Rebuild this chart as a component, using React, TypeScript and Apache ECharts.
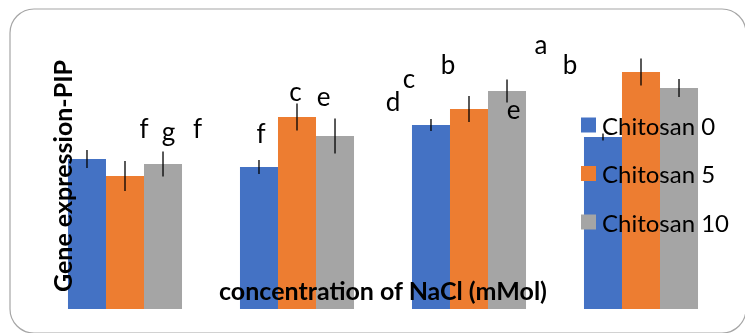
import React, { useEffect, useRef } from "react";
import * as echarts from "echarts";

const CATEGORIES = ["NaCl 1", "NaCl 2", "NaCl 3", "NaCl 4"];
const SERIES_NAMES = ["Chitosan 0", "Chitosan 5", "Chitosan 10"];
const CHITOSAN_0 = [1.5, 1.42, 1.84, 1.72];
const CHITOSAN_5 = [1.33, 1.92, 2.0, 2.37];
const CHITOSAN_10 = [1.45, 1.73, 2.18, 2.21];
const ERR_0 = [0.09, 0.07, 0.06, 0.035];
const ERR_5 = [0.15, 0.135, 0.13, 0.135];
const ERR_10 = [0.125, 0.175, 0.115, 0.09];
const LETTERS = ["f", "g", "f", "f", "c", "e", "d", "c", "b", "e", "a", "b"];

// annotation placement (pixels: x centre, baseline)
const LETTER_XY: [number, number][] = [
  [144, 137], [168.5, 140], [197.5, 137],
  [261, 141.5], [295.5, 100], [323.5, 105],
  [393, 110], [409, 87], [448, 73], [513.5, 118], [541, 53], [570, 73],
];

const COLORS = ["#4472C4", "#ED7D31", "#A5A5A5"];
const FONT = "Lato, 'Open Sans', sans-serif";
const CAT_GAP = 0.337;

export default function App() {
  const ref = useRef<HTMLDivElement>(null);
  useEffect(() => {
    if (!ref.current) return;
    const chart = echarts.init(ref.current, null, { renderer: "svg" });
    const values = [CHITOSAN_0, CHITOSAN_5, CHITOSAN_10];
    const errs = [ERR_0, ERR_5, ERR_10];

    const barSeries = values.map((v, i) => ({
      name: SERIES_NAMES[i],
      type: "bar",
      data: v,
      barGap: "0%",
      barCategoryGap: CAT_GAP * 100 + "%",
      itemStyle: { color: COLORS[i] },
      z: 2,
    }));

    const errSeries = values.map((v, i) => ({
      type: "custom",
      z: 3,
      silent: true,
      data: v.map((val, c) => [c, val, errs[i][c]]),
      renderItem: (params: any, api: any) => {
        const c = api.value(0);
        const val = api.value(1);
        const e = api.value(2);
        const band = api.size([1, 0])[0];
        const bw = (band * (1 - CAT_GAP)) / 3;
        const lo = api.coord([c, val - e]);
        const hi = api.coord([c, val + e]);
        const x = lo[0] + (i - 1) * bw;
        return {
          type: "line",
          shape: { x1: x, y1: lo[1], x2: x, y2: hi[1] },
          style: { stroke: "#000", lineWidth: 1.3 },
        };
      },
    }));

    const letterGraphics = LETTERS.map((t, k) => ({
      type: "text",
      z: 100,
      x: LETTER_XY[k][0],
      y: LETTER_XY[k][1] + 4,
      style: {
        text: t,
        font: `26px ${FONT}`,
        fill: "#000",
        textAlign: "center",
        textVerticalAlign: "bottom",
      },
    }));

    chart.setOption({
      animation: false,
      grid: { left: 39, right: 18, top: 9, bottom: 24 },
      xAxis: {
        type: "category",
        data: CATEGORIES,
        show: false,
      },
      yAxis: { type: "value", min: 0, max: 3, show: false },
      legend: {
        orient: "vertical",
        left: 581,
        top: 111,
        padding: 0,
        itemWidth: 15,
        itemHeight: 15,
        itemGap: 20.5,
        icon: "rect",
        data: SERIES_NAMES,
        textStyle: { fontSize: 24, lineHeight: 28, fontFamily: FONT, color: "#000", padding: [0, 0, 0, 1] },
      },
      graphic: [
        {
          type: "rect",
          z: -10,
          shape: { x: 10, y: 9, width: 736, height: 324, r: 24 },
          style: { fill: "none", stroke: "#a6a6a6", lineWidth: 1.2 },
        },
        {
          type: "text",
          z: 100,
          x: 62,
          y: 176,
          rotation: Math.PI / 2,
          style: {
            text: "Gene expression-PIP",
            font: `bold 25px ${FONT}`,
            fill: "#000",
            textAlign: "center",
            textVerticalAlign: "middle",
          },
        },
        {
          type: "text",
          z: 100,
          x: 383,
          y: 290,
          style: {
            text: "concentration of NaCl (mMol)",
            font: `bold 25px ${FONT}`,
            fill: "#000",
            textAlign: "center",
            textVerticalAlign: "middle",
          },
        },
        ...letterGraphics,
      ],
      series: [...barSeries, ...errSeries],
    });
    return () => chart.dispose();
  }, []);
  return (
    <div
      ref={ref}
      style={{ position: "fixed", left: 0, top: 0, width: 745, height: 333 }}
    />
  );
}
